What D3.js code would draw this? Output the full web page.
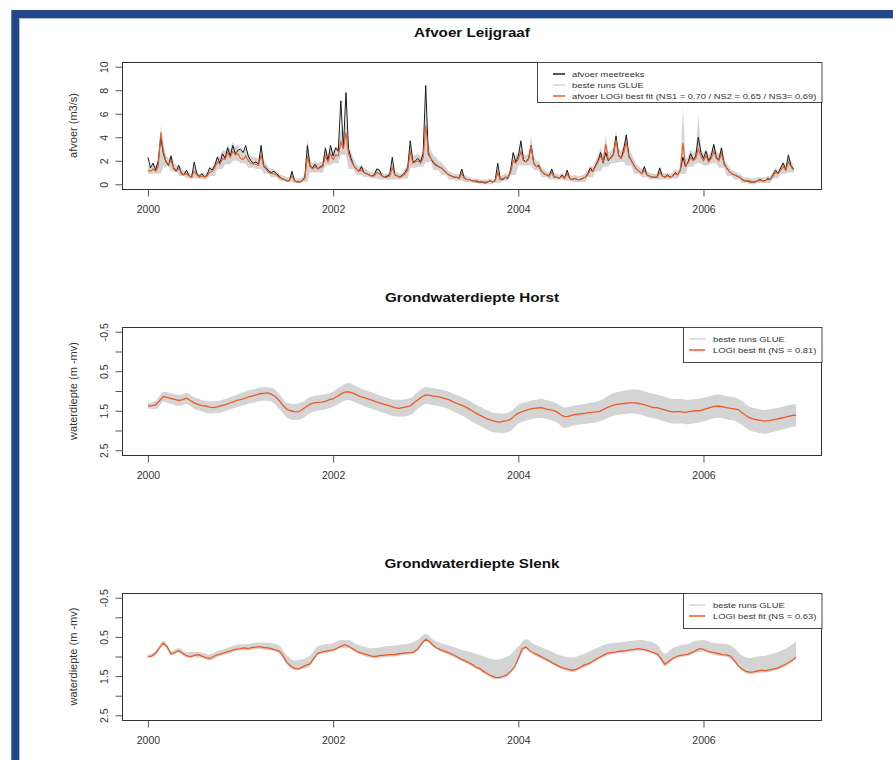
<!DOCTYPE html>
<html>
<head>
<meta charset="utf-8">
<script src="https://cdn.jsdelivr.net/npm/d3@7"></script>
<style>
  body { margin: 0; background: #fff; }
  svg { display: block; font-family: "Liberation Sans", Arial, sans-serif; }
</style>
</head>
<body>
<svg id="chart" width="893" height="760"></svg>
<script>
// afvoer per decade (3 per maand), 2000 t/m 2006
const afvoerMeet = [
  2.3,1.4,1.8, 1.2,2.0,4.0, 2.6,1.9,1.6, 2.4,1.3,1.1, 1.6,0.9,0.8, 1.2,0.7,0.6, 1.9,0.9,0.7, 0.9,0.6,0.8, 1.4,1.2,1.6, 2.3,1.8,2.6, 2.2,3.1,2.4, 3.3,2.6,2.9,
  3.0,2.7,3.3, 2.4,2.0,1.8, 1.9,1.7,3.3, 1.6,1.4,1.1, 1.0,1.1,0.9, 0.7,0.5,0.4, 0.3,0.3,1.1, 0.3,0.2,0.2, 0.3,0.6,3.3, 1.6,1.4,1.7, 1.3,1.5,1.6, 3.1,2.0,3.3,
  2.4,3.1,2.8, 7.1,3.1,7.8, 3.0,2.2,1.6, 1.3,1.1,1.5, 1.0,0.9,0.8, 0.7,0.8,1.3, 1.2,0.7,0.6, 0.7,0.8,2.3, 0.8,0.7,0.6, 0.8,1.0,1.4, 3.7,1.9,2.0, 2.2,1.9,2.6,
  8.4,2.6,2.2, 1.8,1.6,1.5, 1.4,1.2,1.0, 0.8,0.7,0.6, 0.6,0.5,1.3, 0.5,0.4,0.4, 0.3,0.3,0.2, 0.2,0.2,0.1, 0.2,0.3,0.2, 0.3,1.8,0.4, 0.4,0.6,0.5, 1.2,2.7,1.9,
  2.4,3.7,2.1, 1.9,2.2,3.3, 1.8,1.5,1.6, 1.1,0.9,0.8, 0.7,1.3,0.6, 0.6,0.5,0.8, 0.5,1.2,0.5, 0.4,0.5,0.4, 0.4,0.5,0.6, 0.9,1.4,1.1, 1.6,2.0,2.7, 1.8,2.7,2.0,
  2.3,2.6,4.1, 2.5,2.2,3.0, 4.2,2.4,2.0, 1.6,1.3,1.1, 0.9,1.5,0.8, 0.7,0.6,0.6, 0.6,1.4,0.7, 0.6,0.8,0.6, 0.7,1.0,0.8, 1.2,2.3,1.5, 1.9,2.6,2.1, 2.4,4.0,2.7,
  2.2,2.8,2.0, 2.4,3.4,2.3, 2.1,3.1,1.8, 1.4,1.1,0.9, 0.8,0.7,0.6, 0.4,0.3,0.3, 0.2,0.2,0.2, 0.3,0.4,0.3, 0.3,0.5,0.4, 0.8,1.2,0.9, 1.4,1.8,1.2, 2.5,1.6,1.3
]
const afvoerLogi = [
  1.2,1.1,1.3, 1.1,1.5,4.4, 2.8,2.0,1.7, 2.0,1.4,1.2, 1.3,1.0,0.8, 0.9,0.7,0.6, 1.1,0.8,0.6, 0.7,0.6,0.7, 1.0,1.1,1.4, 1.9,1.7,2.2, 2.1,2.7,2.3, 2.8,2.5,2.6,
  2.2,2.1,2.4, 2.0,1.8,1.7, 1.7,1.6,2.5, 1.5,1.3,1.0, 0.9,0.9,0.8, 0.6,0.5,0.4, 0.3,0.3,0.7, 0.3,0.2,0.2, 0.3,0.5,2.4, 1.5,1.3,1.5, 1.3,1.4,1.5, 2.4,1.9,2.6,
  2.1,2.5,2.4, 3.6,3.0,4.4, 2.6,2.0,1.6, 1.3,1.1,1.2, 1.0,0.9,0.8, 0.7,0.7,1.0, 0.9,0.7,0.6, 0.6,0.7,1.4, 0.8,0.7,0.6, 0.7,0.9,1.2, 2.8,1.8,1.9, 2.0,1.8,2.2,
  5.0,2.8,2.2, 1.9,1.7,1.5, 1.4,1.2,1.0, 0.8,0.7,0.6, 0.6,0.5,0.9, 0.5,0.4,0.4, 0.3,0.3,0.3, 0.2,0.2,0.2, 0.2,0.3,0.2, 0.3,1.0,0.4, 0.5,0.6,0.6, 1.0,2.0,1.8,
  2.1,2.8,2.0, 1.9,2.1,3.3, 1.8,1.5,1.5, 1.1,0.9,0.8, 0.7,1.0,0.6, 0.6,0.5,0.7, 0.5,0.9,0.5, 0.4,0.5,0.4, 0.4,0.5,0.6, 0.8,1.2,1.1, 1.5,1.9,2.4, 1.9,3.4,2.1,
  2.2,2.5,3.8, 2.4,2.2,2.7, 3.6,2.3,2.0, 1.6,1.3,1.1, 0.9,1.2,0.8, 0.7,0.6,0.6, 0.6,1.0,0.7, 0.6,0.7,0.6, 0.7,0.9,0.8, 1.2,3.5,1.6, 1.8,2.3,2.0, 2.2,3.0,2.4,
  2.0,2.4,1.9, 2.2,2.8,2.2, 2.0,2.6,1.7, 1.4,1.1,0.9, 0.8,0.7,0.6, 0.4,0.3,0.3, 0.3,0.2,0.2, 0.3,0.3,0.3, 0.3,0.4,0.4, 0.7,1.0,0.9, 1.2,1.5,1.2, 1.9,1.5,1.2
]
// bovengrens GLUE per decade
const glueHoog = [
  1.6,1.5,1.8, 1.5,2.0,5.0, 3.4,2.5,2.2, 2.6,1.9,1.6, 1.7,1.4,1.1, 1.2,1.0,0.9, 1.5,1.1,0.9, 1.0,0.9,1.0, 1.4,1.5,1.9, 2.5,2.3,2.9, 2.8,3.4,3.0, 3.6,3.2,3.4,
  2.9,2.8,3.1, 2.6,2.4,2.3, 2.3,2.2,3.2, 2.0,1.8,1.4, 1.3,1.3,1.1, 0.9,0.8,0.7, 0.6,0.6,1.1, 0.6,0.5,0.5, 0.6,0.9,3.8, 2.1,1.8,2.0, 1.8,1.9,2.0, 3.1,2.5,3.3,
  2.8,3.2,3.1, 4.8,3.9,5.6, 3.4,2.7,2.2, 1.8,1.5,1.7, 1.4,1.3,1.1, 1.0,1.0,1.4, 1.3,1.0,0.9, 0.9,1.0,1.9, 1.1,1.0,0.9, 1.0,1.3,1.7, 3.6,2.4,2.5, 2.6,2.4,2.9,
  6.2,3.6,2.9, 2.5,2.3,2.0, 1.9,1.6,1.4, 1.1,1.0,0.9, 0.9,0.8,1.3, 0.8,0.7,0.6, 0.5,0.5,0.5, 0.4,0.4,0.4, 0.4,0.5,0.4, 0.5,1.4,0.7, 0.8,0.9,0.9, 1.4,2.6,2.4,
  2.7,3.5,2.6, 2.5,2.7,4.1, 2.4,2.0,2.0, 1.5,1.3,1.1, 1.0,1.4,0.9, 0.9,0.8,1.0, 0.8,1.3,0.8, 0.7,0.8,0.7, 0.7,0.8,0.9, 1.2,1.6,1.5, 2.0,2.5,3.1, 2.5,4.2,2.7,
  2.8,3.2,4.6, 3.1,2.8,3.4, 4.4,3.0,2.6, 2.1,1.7,1.5, 1.3,1.6,1.1, 1.0,0.9,0.9, 0.9,1.4,1.0, 0.9,1.0,0.9, 1.0,1.3,1.1, 1.6,6.6,2.1, 2.4,3.0,2.6, 2.9,5.9,3.1,
  2.6,3.1,2.5, 2.8,3.5,2.8, 2.6,3.3,2.2, 1.8,1.5,1.2, 1.1,1.0,0.9, 0.7,0.6,0.6, 0.5,0.5,0.5, 0.6,0.6,0.6, 0.6,0.7,0.7, 1.0,1.4,1.2, 1.6,2.0,1.6, 2.4,2.0,1.6
]
// ondergrens GLUE per maand
const glueLaag = [
  0.9,0.9,1.5,1.1,0.7,0.5,0.5,0.4,0.7,1.3,1.7,2.0,
  1.8,1.4,1.3,0.9,0.6,0.3,0.2,0.1,0.2,1.0,1.0,1.6,
  1.8,2.5,1.3,0.8,0.6,0.5,0.4,0.4,0.4,0.5,1.4,1.5,
  1.9,1.2,0.8,0.4,0.3,0.2,0.1,0.0,0.0,0.1,0.3,0.8,
  1.6,1.6,1.2,0.6,0.4,0.4,0.3,0.2,0.2,0.6,1.1,1.5,
  1.8,1.9,1.6,0.9,0.6,0.4,0.4,0.4,0.5,0.9,1.5,1.8,
  1.6,1.8,1.4,0.7,0.4,0.1,0.0,0.1,0.1,0.5,0.9,1.0
]

// grondwaterdiepte Horst, 2 per maand (m -mv)
const horstLogi = [
  1.38,1.37,1.35,1.25,1.14,1.16,1.19,1.21,1.24,1.22,1.18,1.24,
  1.30,1.34,1.37,1.38,1.41,1.42,1.40,1.37,1.35,1.31,1.28,1.24,
  1.22,1.19,1.15,1.13,1.10,1.07,1.06,1.05,1.08,1.14,1.24,1.36,
  1.46,1.50,1.52,1.53,1.47,1.40,1.34,1.30,1.29,1.28,1.26,1.22,
  1.20,1.14,1.08,1.03,1.02,1.05,1.09,1.14,1.17,1.20,1.23,1.27,
  1.30,1.33,1.36,1.39,1.42,1.44,1.42,1.40,1.38,1.29,1.22,1.15,
  1.10,1.11,1.13,1.14,1.16,1.19,1.22,1.27,1.31,1.35,1.39,1.44,
  1.50,1.56,1.61,1.66,1.71,1.74,1.77,1.79,1.77,1.75,1.72,1.63,
  1.56,1.52,1.49,1.46,1.44,1.43,1.42,1.45,1.47,1.49,1.53,1.60,
  1.65,1.64,1.61,1.59,1.58,1.57,1.55,1.54,1.53,1.52,1.47,1.42,
  1.38,1.35,1.33,1.32,1.31,1.30,1.30,1.31,1.33,1.36,1.39,1.42,
  1.42,1.45,1.48,1.51,1.53,1.52,1.52,1.54,1.53,1.51,1.50,1.50,
  1.47,1.44,1.41,1.39,1.38,1.40,1.42,1.44,1.45,1.47,1.55,1.62,
  1.68,1.71,1.73,1.75,1.76,1.75,1.73,1.71,1.69,1.67,1.64,1.62,
  1.61
]
// GLUE band Horst per maand
const horstOndiep = [
  1.30,1.25,1.02,1.06,1.10,1.05,1.16,1.23,1.26,1.25,1.20,1.13,
  1.06,0.99,0.94,0.90,0.92,1.07,1.30,1.33,1.28,1.16,1.11,1.08,
  1.01,0.88,0.80,0.88,0.97,1.03,1.11,1.17,1.22,1.22,1.18,1.02,
  0.90,0.93,0.96,1.02,1.10,1.18,1.29,1.39,1.49,1.56,1.57,1.52,
  1.35,1.28,1.23,1.20,1.25,1.31,1.42,1.38,1.35,1.31,1.28,1.20,
  1.08,1.02,0.98,0.96,0.99,1.05,1.09,1.15,1.20,1.20,1.22,1.20,
  1.18,1.12,1.09,1.13,1.16,1.26,1.40,1.45,1.48,1.45,1.41,1.36,1.33
]
const horstDiep = [
  1.44,1.46,1.27,1.33,1.38,1.33,1.45,1.52,1.57,1.56,1.51,1.44,
  1.38,1.32,1.28,1.24,1.27,1.44,1.67,1.74,1.70,1.56,1.50,1.47,
  1.40,1.29,1.23,1.30,1.38,1.45,1.52,1.58,1.64,1.65,1.61,1.45,
  1.33,1.36,1.40,1.46,1.56,1.65,1.77,1.88,1.98,2.05,2.06,2.01,
  1.83,1.75,1.70,1.68,1.73,1.80,1.94,1.88,1.85,1.82,1.80,1.74,
  1.65,1.60,1.58,1.57,1.61,1.67,1.71,1.77,1.82,1.82,1.84,1.81,
  1.77,1.71,1.68,1.72,1.75,1.86,2.00,2.05,2.08,2.04,1.99,1.93,1.89
]

// grondwaterdiepte Slenk, 2 per maand (m -mv)
const slenkLogi = [
  1.00,0.99,0.92,0.78,0.66,0.75,0.93,0.90,0.85,0.92,0.98,1.01,
  0.97,0.95,0.99,1.03,1.05,1.00,0.96,0.93,0.90,0.87,0.84,0.81,
  0.80,0.78,0.80,0.77,0.76,0.75,0.77,0.78,0.80,0.83,0.86,0.98,
  1.15,1.24,1.30,1.32,1.27,1.22,1.19,1.05,0.92,0.89,0.87,0.85,
  0.83,0.79,0.74,0.70,0.74,0.80,0.86,0.90,0.93,0.96,0.99,1.00,
  0.98,0.97,0.96,0.95,0.95,0.93,0.92,0.91,0.90,0.88,0.80,0.66,
  0.56,0.62,0.72,0.79,0.83,0.87,0.91,0.95,1.00,1.06,1.10,1.15,
  1.20,1.27,1.31,1.38,1.44,1.49,1.53,1.54,1.51,1.47,1.38,1.28,
  1.05,0.80,0.76,0.86,0.91,0.96,1.01,1.06,1.11,1.17,1.22,1.27,
  1.30,1.33,1.35,1.33,1.28,1.22,1.19,1.14,1.08,1.02,0.97,0.92,
  0.90,0.89,0.87,0.86,0.85,0.83,0.82,0.80,0.81,0.83,0.86,0.90,
  0.94,1.05,1.20,1.12,1.05,1.00,0.97,0.96,0.94,0.90,0.85,0.80,
  0.82,0.86,0.89,0.91,0.93,0.95,0.96,0.99,1.10,1.24,1.32,1.38,
  1.40,1.39,1.37,1.35,1.36,1.34,1.32,1.30,1.26,1.21,1.16,1.10,
  1.01
]
const slenkOndiep = [
  0.96,0.86,0.60,0.86,0.78,0.89,0.88,0.90,0.95,0.86,0.80,0.73,
  0.69,0.68,0.64,0.64,0.66,0.71,0.97,1.10,1.07,0.98,0.74,0.69,
  0.66,0.58,0.58,0.69,0.75,0.79,0.77,0.74,0.72,0.69,0.66,0.57,
  0.42,0.57,0.66,0.72,0.78,0.85,0.90,0.96,1.03,1.08,1.05,0.95,
  0.74,0.56,0.68,0.77,0.85,0.94,1.00,1.03,0.97,0.89,0.80,0.71,
  0.66,0.64,0.62,0.59,0.58,0.62,0.70,0.93,0.79,0.71,0.68,0.60,
  0.58,0.64,0.67,0.68,0.79,0.98,1.04,1.00,0.98,0.93,0.86,0.76,0.62
]
const slenkDiep = [
  1.03,0.96,0.70,0.97,0.90,1.03,1.02,1.04,1.10,1.01,0.95,0.89,
  0.85,0.85,0.81,0.82,0.85,0.91,1.20,1.35,1.32,1.24,0.97,0.92,
  0.88,0.79,0.79,0.91,0.98,1.04,1.03,1.01,1.00,0.97,0.95,0.85,
  0.61,0.77,0.88,0.96,1.05,1.15,1.25,1.36,1.49,1.58,1.56,1.43,
  1.10,0.81,0.96,1.06,1.16,1.27,1.35,1.40,1.33,1.24,1.13,1.02,
  0.95,0.92,0.90,0.87,0.86,0.91,0.99,1.25,1.10,1.02,0.99,0.90,
  0.87,0.94,0.98,1.01,1.15,1.37,1.45,1.42,1.41,1.37,1.31,1.21,1.06
]

const jaarTicks = [2000, 2002, 2004, 2006]
const afvoerTicks = [0, 2, 4, 6, 8, 10]
const diepteTicks = [-0.5, 0, 0.5, 1, 1.5, 2, 2.5]
const diepteLabels = [-0.5, 0.5, 1.5, 2.5]

const oranje = '#ee5a24'
const grijs = '#d3d4d3'
const stretch = 1.17   // figuur is horizontaal uitgerekt

let svg = d3.select('#chart')

// blauwe kader
svg.append('rect').attr('x', 11).attr('y', 10).attr('width', 882).attr('height', 8).attr('fill', '#23488a')
svg.append('rect').attr('x', 11).attr('y', 10).attr('width', 8).attr('height', 750).attr('fill', '#23488a')
svg.append('line').attr('x1', 19).attr('x2', 893).attr('y1', 18.5).attr('y2', 18.5).attr('stroke', '#a9bcdf')
svg.append('line').attr('x1', 19.5).attr('x2', 19.5).attr('y1', 18).attr('y2', 760).attr('stroke', '#a9bcdf')
svg.append('line').attr('x1', 11.5).attr('x2', 11.5).attr('y1', 10).attr('y2', 760).attr('stroke', '#5f7fbf')

let x = d3.scaleLinear().domain([1999.72, 2007.28]).range([122, 822])

function drawPanel (p) {
    let g = svg.append('g')
    let y = d3.scaleLinear().domain(p.domain).range(p.range)

    let clipId = 'clip' + p.id
    svg.append('clipPath').attr('id', clipId)
        .append('rect').attr('x', 122).attr('y', p.top).attr('width', 700).attr('height', p.bottom - p.top)

    let plot = g.append('g').attr('clip-path', 'url(#' + clipId + ')')
    p.marks(plot, y)

    // kader
    g.append('rect')
        .attr('x', 122.5).attr('y', p.top + 0.5)
        .attr('width', 699).attr('height', p.bottom - p.top)
        .attr('fill', 'none').attr('stroke', '#333').attr('stroke-width', 1)

    // x-as
    let xa = g.append('g')
        .attr('transform', 'translate(0,' + (p.bottom + 0.5) + ')')
        .call(d3.axisBottom(x).tickValues(jaarTicks).tickFormat(d3.format('d')).tickSize(7).tickPadding(9))
    xa.select('.domain').remove()
    xa.selectAll('line').attr('stroke', '#555')
    xa.selectAll('text').attr('font-size', 10.5).attr('fill', '#333').attr('font-family', null)

    // y-as
    let ya = g.append('g')
        .attr('transform', 'translate(122.5,0)')
        .call(d3.axisLeft(y).tickValues(p.ticks).tickSize(7)
            .tickFormat(d => p.labels.includes(d) ? String(d) : ''))
    ya.select('.domain').remove()
    ya.selectAll('line').attr('stroke', '#555')
    ya.selectAll('text')
        .attr('transform', 'rotate(-90)')
        .attr('x', 0).attr('y', -15).attr('dy', 0)
        .attr('text-anchor', 'middle')
        .attr('font-size', 10.5).attr('fill', '#333').attr('font-family', null)

    // titels
    g.append('text')
        .attr('class', 'hs')
        .attr('x', 472).attr('y', p.top - 25)
        .attr('text-anchor', 'middle')
        .attr('font-size', 13).attr('font-weight', 'bold').attr('fill', '#111')
        .text(p.title)

    g.append('text')
        .attr('transform', 'translate(77,' + ((p.top + p.bottom) / 2) + ') rotate(-90)')
        .attr('text-anchor', 'middle')
        .attr('font-size', 11).attr('fill', '#333')
        .text(p.ylab)

    // legenda
    let lg = g.append('g')
    lg.append('rect')
        .attr('x', p.legend.x + 0.5).attr('y', p.top + 0.5)
        .attr('width', 821.5 - p.legend.x).attr('height', p.legend.h)
        .attr('fill', '#fff').attr('stroke', '#444')
    p.legend.items.forEach((item, i) => {
        let ly = p.top + p.legend.first + i * p.legend.step
        lg.append('line')
            .attr('x1', p.legend.lx1).attr('x2', p.legend.lx2)
            .attr('y1', ly).attr('y2', ly)
            .attr('stroke', item.color).attr('stroke-width', item.width)
        lg.append('text')
            .attr('class', 'hs')
            .attr('x', p.legend.tx).attr('y', ly + 3)
            .attr('font-size', 8).attr('fill', '#333')
            .text(item.text)
    })
}

// afvoer
drawPanel({
    id: 1, top: 62, bottom: 189,
    domain: [-0.4, 10.4], range: [189, 62],
    ticks: afvoerTicks, labels: afvoerTicks,
    title: 'Afvoer Leijgraaf', ylab: 'afvoer (m3/s)',
    legend: {
        x: 537, h: 40, first: 12, step: 11, lx1: 553, lx2: 565, tx: 572,
        items: [
            { text: 'afvoer meetreeks', color: '#222', width: 1.5 },
            { text: 'beste runs GLUE', color: grijs, width: 1.5 },
            { text: 'afvoer LOGI best fit (NS1 = 0.70 / NS2 = 0.65 / NS3= 0.69)', color: oranje, width: 1.5 }
        ]
    },
    marks: (plot, y) => {
        let jaar = i => 2000 + i / 36
        plot.append('path')
            .datum(glueHoog)
            .attr('d', d3.area()
                .x((d, i) => x(jaar(i)))
                .y0((d, i) => y(glueLaag[Math.floor(i / 3)]))
                .y1(d => y(d)))
            .attr('fill', grijs)
        plot.append('path')
            .datum(afvoerMeet)
            .attr('d', d3.line().x((d, i) => x(jaar(i))).y(d => y(d)))
            .attr('fill', 'none').attr('stroke', '#1a1a1a').attr('stroke-width', 1)
        plot.append('path')
            .datum(afvoerLogi)
            .attr('d', d3.line().x((d, i) => x(jaar(i))).y(d => y(d)))
            .attr('fill', 'none').attr('stroke', oranje).attr('stroke-width', 1.1)
    }
})

function diepteMarks (logi, ondiep, diep) {
    return (plot, y) => {
        plot.append('path')
            .datum(ondiep)
            .attr('d', d3.area()
                .curve(d3.curveMonotoneX)
                .x((d, i) => x(2000 + i / 12))
                .y0((d, i) => y(diep[i]))
                .y1(d => y(d)))
            .attr('fill', grijs)
        plot.append('path')
            .datum(logi)
            .attr('d', d3.line().x((d, i) => x(2000 + i / 24)).y(d => y(d)))
            .attr('fill', 'none').attr('stroke', oranje).attr('stroke-width', 1.3)
    }
}

function diepteLegend (ns) {
    return {
        x: 683, h: 35, first: 12, step: 11, lx1: 689, lx2: 705, tx: 713,
        items: [
            { text: 'beste runs GLUE', color: grijs, width: 1.5 },
            { text: 'LOGI best fit (NS = ' + ns + ')', color: oranje, width: 1.5 }
        ]
    }
}

drawPanel({
    id: 2, top: 327, bottom: 455,
    domain: [-0.62, 2.62], range: [327, 455],
    ticks: diepteTicks, labels: diepteLabels,
    title: 'Grondwaterdiepte Horst', ylab: 'waterdiepte (m -mv)',
    legend: diepteLegend('0.81'),
    marks: diepteMarks(horstLogi, horstOndiep, horstDiep)
})

drawPanel({
    id: 3, top: 593, bottom: 720,
    domain: [-0.62, 2.62], range: [593, 720],
    ticks: diepteTicks, labels: diepteLabels,
    title: 'Grondwaterdiepte Slenk', ylab: 'waterdiepte (m -mv)',
    legend: diepteLegend('0.63'),
    marks: diepteMarks(slenkLogi, slenkOndiep, slenkDiep)
})

// horizontale tekst iets uitrekken zoals in het origineel
svg.selectAll('text.hs').each(function () {
    let w = this.getComputedTextLength()
    d3.select(this).attr('textLength', w * stretch).attr('lengthAdjust', 'spacingAndGlyphs')
})
</script>
</body>
</html>
